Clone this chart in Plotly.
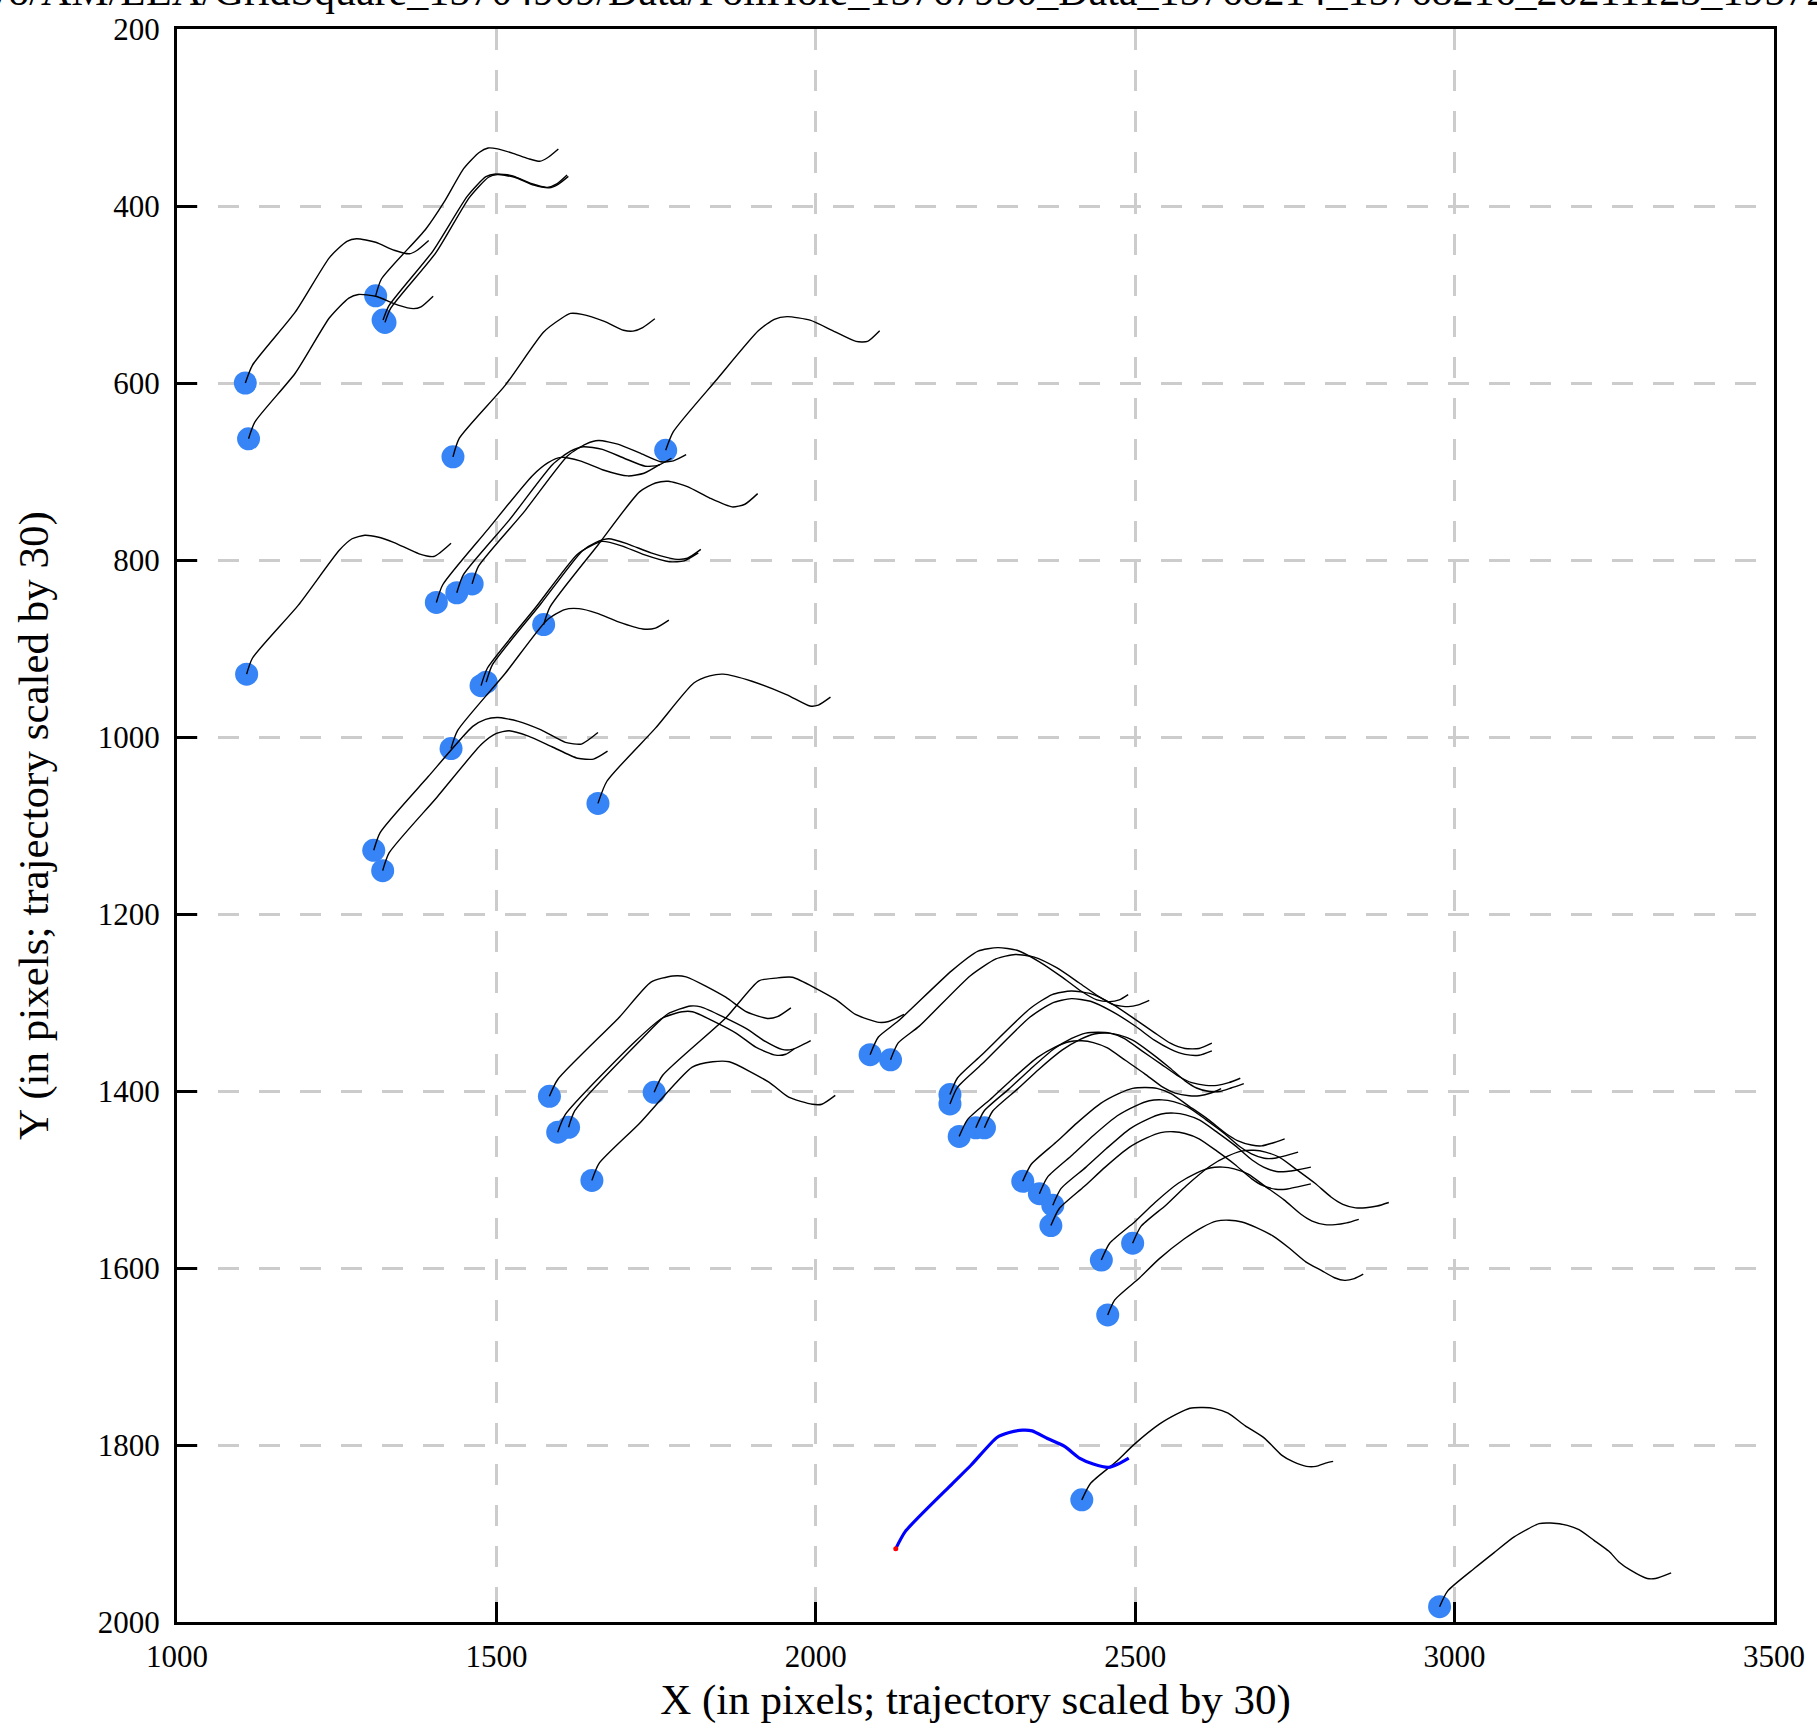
import plotly.graph_objects as go

# ---------------- data ----------------
TITLE = "/mnt/cryo/AM/LEA/GridSquare_15704909/Data/FoilHole_15767950_Data_15768214_15768216_20211123_195724_Fractions.tiff"
X_LABEL = "X (in pixels; trajectory scaled by 30)"
Y_LABEL = "Y (in pixels; trajectory scaled by 30)"
X_TICKS = [1000, 1500, 2000, 2500, 3000, 3500]
Y_TICKS = [200, 400, 600, 800, 1000, 1200, 1400, 1600, 1800, 2000]

# positions (blue dots)
POS_X = [1107, 1112, 1311, 1322.6, 1325.6, 1432, 1765, 1406, 1438, 1462,
         1109, 1574, 1476, 1484, 1429, 1659, 1308, 1322,
         1583, 1596, 1613, 1747, 1649.5,
         2085, 2117, 2210, 2210, 2224.5, 2250.5, 2264, 2324, 2350, 2371, 2368,
         2447, 2496, 2457, 2416.4, 2976.5]
POS_Y = [600, 663, 501.5, 528.9, 531.5, 683.4, 676, 848, 837, 827,
         929, 873, 942, 938, 1013, 1075, 1128, 1151,
         1406, 1446.5, 1441, 1401.5, 1501,
         1359, 1364.7, 1404, 1414.6, 1451.3, 1441.6, 1441.6, 1502, 1516, 1529, 1552,
         1591, 1572, 1653, 1862, 1982.7]

# trajectory shifts (already scaled by 30), relative to each position
SHIFTS = [
    [(0,0),(11,-20),(78,-80),(132,-142),(159,-160),(174,-163),(204,-159),(233,-150),(257,-146),(269,-150),(287,-161)],
    [(0,0),(10,-19),(73,-74),(127,-137),(157,-159),(172,-163),(199,-161),(234,-151),(258,-147),(270,-149),(289,-161)],
    [(0,0),(9,-19),(78,-75),(108,-107),(138,-144),(162,-162),(176,-167),(191,-166),(215,-161),(239,-155),(257,-152),(269,-156),(286,-166)],
    [(0,0),(9,-16),(78,-78),(132,-140),(161,-162),(176,-165),(203,-163),(233,-154),(257,-150),(272,-154),(288,-164)],
    [(0,0),(9,-16),(80,-79),(132,-141),(162,-164),(176,-167),(203,-164),(233,-155),(257,-152),(271,-156),(287,-165)],
    [(0,0),(10,-21),(82,-81),(142,-141),(169,-156),(184,-162),(202,-161),(237,-153),(267,-143),(282,-142),(297,-146),(316,-156)],
    [(0,0),(12,-21),(80,-80),(145,-135),(170,-148),(190,-151),(226,-147),(262,-135),(298,-123),(316,-123),(335,-135)],
    [(0,0),(10,-20),(80,-82),(150,-143),(175,-158),(195,-164),(225,-160),(260,-150),(300,-143),(325,-146),(350,-156)],
    [(0,0),(10,-20),(82,-82),(150,-145),(178,-160),(198,-165),(228,-162),(262,-152),(295,-143),(315,-144),(336,-152)],
    [(0,0),(10,-20),(82,-82),(150,-145),(178,-158),(198,-162),(228,-158),(262,-148),(295,-138),(315,-139),(335,-146)],
    [(0,0),(9,-18),(81,-78),(145,-140),(165,-153),(185,-157),(205,-155),(230,-149),(270,-136),(293,-133),(320,-148)],
    [(0,0),(10,-20),(85,-90),(150,-150),(175,-160),(195,-162),(225,-156),(260,-143),(295,-133),(315,-136),(335,-148)],
    [(0,0),(10,-20),(85,-88),(150,-148),(172,-158),(190,-163),(220,-158),(255,-148),(295,-140),(318,-141),(340,-150)],
    [(0,0),(10,-20),(85,-88),(150,-148),(172,-158),(192,-162),(222,-156),(258,-146),(295,-139),(315,-140),(336,-150)],
    [(0,0),(10,-20),(85,-85),(150,-145),(178,-157),(200,-158),(228,-153),(262,-143),(300,-135),(320,-136),(341,-145)],
    [(0,0),(14,-25),(90,-85),(150,-136),(175,-144),(196,-146),(241,-138),(295,-123),(332,-110),(345,-111),(364,-120)],
    [(0,0),(10,-20),(85,-83),(155,-140),(175,-148),(194,-150),(225,-146),(262,-136),(300,-122),(325,-120),(351,-133)],
    [(0,0),(10,-20),(85,-83),(155,-143),(178,-155),(198,-158),(228,-152),(265,-140),(305,-127),(330,-126),(352,-135)],
    [(0,0),(13,-19),(109,-89),(159,-129),(193,-136),(214,-135),(276,-112),(307,-96),(341,-88),(357,-90),(378,-100)],
    [(0,0),(12,-20),(122,-103),(164,-129),(195,-136),(211,-136),(279,-112),(310,-96),(341,-87),(357,-88),(370,-94)],
    [(0,0),(10,-19),(116,-101),(155,-128),(191,-137),(207,-136),(277,-112),(308,-97),(334,-88),(350,-88),(379,-98)],
    [(0,0),(13,-19),(112,-84),(164,-126),(190,-129),(216,-130),(284,-105),(315,-88),(352,-79),(367,-80),(391,-88)],
    [(0,0),(11,-19),(74,-64),(157,-128),(189,-134),(215,-134),(277,-111),(308,-94),(345,-86),(360,-86),(381,-96)],
    [(0,0),(13,-20),(44,-38),(128,-95),(169,-117),(200,-121),(230,-118),(265,-105),(300,-88),(330,-72),(355,-62),(375,-60),(390,-62),(404,-68)],
    [(0,0),(12,-19),(45,-38),(125,-95),(165,-114),(195,-119),(225,-116),(260,-104),(295,-87),(325,-72),(350,-62),(372,-60),(388,-62),(405,-67)],
    [(0,0),(12,-19),(50,-45),(125,-97),(160,-113),(190,-117),(220,-114),(255,-102),(290,-85),(320,-70),(345,-58),(368,-52),(390,-52),(410,-58)],
    [(0,0),(12,-19),(50,-45),(125,-98),(160,-114),(190,-119),(220,-116),(255,-104),(290,-88),(320,-72),(345,-62),(368,-56),(390,-55),(410,-60)],
    [(0,0),(13,-19),(52,-44),(85,-66),(122,-89),(150,-101),(172,-107),(192,-108),(210,-106),(232,-100),(260,-86),(290,-71),(318,-56),(338,-49),(360,-46),(376,-46),(394,-49),(410,-54)],
    [(0,0),(13,-19),(52,-44),(85,-66),(122,-89),(150,-101),(172,-107),(192,-108),(210,-107),(232,-101),(260,-87),(290,-72),(318,-58),(338,-51),(360,-48),(378,-48),(396,-51),(414,-56)],
    [(0,0),(13,-19),(52,-44),(85,-66),(122,-88),(150,-100),(172,-106),(192,-107),(210,-105),(232,-99),(260,-85),(288,-69),(314,-53),(332,-45),(352,-41),(368,-41),(386,-45),(406,-50)],
    [(0,0),(13,-19),(52,-44),(85,-66),(122,-88),(150,-99),(172,-105),(192,-106),(210,-105),(232,-99),(260,-85),(290,-70),(318,-54),(336,-46),(358,-41),(374,-40),(390,-43),(410,-48)],
    [(0,0),(13,-19),(52,-44),(85,-66),(122,-88),(150,-99),(172,-105),(192,-106),(210,-104),(232,-98),(260,-84),(288,-69),(314,-53),(332,-45),(352,-40),(368,-40),(386,-43),(405,-47)],
    [(0,0),(13,-19),(52,-43),(84,-64),(120,-86),(148,-97),(170,-103),(190,-104),(208,-102),(230,-96),(258,-82),(286,-67),(312,-51),(330,-43),(350,-38),(366,-38),(384,-40),(404,-43)],
    [(0,0),(13,-19),(52,-44),(85,-66),(122,-88),(150,-99),(172,-105),(192,-106),(210,-104),(232,-98),(260,-84),(288,-69),(314,-53),(332,-45),(352,-41),(368,-41),(388,-44),(407,-47)],
    [(0,0),(13,-19),(52,-43),(84,-65),(121,-87),(148,-98),(170,-104),(190,-105),(208,-103),(230,-97),(257,-83),(286,-68),(312,-52),(330,-44),(350,-40),(366,-40),(384,-42),(403,-46)],
    [(0,0),(13,-19),(52,-43),(84,-65),(121,-87),(148,-98),(170,-104),(190,-105),(208,-103),(230,-97),(257,-83),(285,-68),(311,-52),(329,-44),(349,-40),(365,-40),(383,-42),(401,-46)],
    [(0,0),(11,-17),(50,-42),(80,-63),(120,-86),(148,-99),(170,-106),(190,-107),(210,-105),(232,-99),(259,-89),(285,-75),(310,-60),(335,-50),(355,-42),(371,-39),(386,-41),(400,-46)],
    [(0,0),(13.8,-18.8),(52.6,-42.4),(82.5,-63),(121.4,-85.5),(148.3,-96.8),(169.2,-103.5),(190.2,-104.3),(208.1,-103.1),(229,-97.9),(256,-83.6),(285.8,-69.8),(312.8,-50.6),(330.7,-43.1),(351.6,-37.9),(366.6,-37.9),(381.5,-41.6),(393.5,-43.5)],
    [(0,0),(12.5,-17.6),(54.2,-43.1),(85.4,-61.1),(116.7,-78.8),(155.7,-93.8),(173.9,-94.5),(200,-91.9),(218.2,-87),(241.7,-75),(265.1,-62.6),(280.7,-50.6),(298.9,-41.3),(325,-31.9),(338,-31.9),(362.5,-38.3)],
]

# highlighted (current) trajectory
CUR_X0, CUR_Y0 = 2125.2, 1917.1
CUR_SHIFTS = [(0,0),(15,-19.5),(88,-73),(118,-94.5),(158.4,-125.6),(177.6,-131.2),(198.5,-133.9),
              (213.4,-133.1),(237.4,-124.5),(264.3,-115.5),(288.2,-102),(309.1,-95.6),(333,-91.9),
              (348,-95.6),(364.7,-102.4)]

# ---------------- figure ----------------
FONT = "Liberation Serif, Times New Roman, Times, serif"
fig = go.Figure()

fig.add_trace(go.Scatter(x=POS_X, y=POS_Y, mode="markers",
                         marker=dict(size=23, color="#3684F6", line=dict(width=0)),
                         hoverinfo="skip"))

for x0, y0, sh in zip(POS_X, POS_Y, SHIFTS):
    fig.add_trace(go.Scatter(x=[x0 + d[0] for d in sh], y=[y0 + d[1] for d in sh],
                             mode="lines", line=dict(color="black", width=1.4, shape="spline", smoothing=0.6),
                             hoverinfo="skip"))

fig.add_trace(go.Scatter(x=[CUR_X0 + d[0] for d in CUR_SHIFTS], y=[CUR_Y0 + d[1] for d in CUR_SHIFTS],
                         mode="lines", line=dict(color="#0000FF", width=3.2, shape="spline", smoothing=0.6),
                         hoverinfo="skip"))
fig.add_trace(go.Scatter(x=[CUR_X0], y=[CUR_Y0], mode="markers",
                         marker=dict(size=5, color="#FF0000"), hoverinfo="skip"))

axis_common = dict(
    ticks="inside", ticklen=20, tickwidth=3, tickcolor="black",
    showline=True, linewidth=3, linecolor="black", mirror=True,
    showgrid=True, gridcolor="#cccccc", gridwidth=2.5, griddash="21px,20px",
    zeroline=False, tickfont=dict(family=FONT, size=31, color="black"),
)

fig.update_layout(
    width=1817, height=1727,
    margin=dict(l=177, r=40, t=27, b=100),
    plot_bgcolor="white", paper_bgcolor="white",
    showlegend=False,
    font=dict(family=FONT, size=31, color="black"),
    xaxis=dict(range=[1000, 3500], tickvals=X_TICKS, ticklabelstandoff=5,
               title=dict(text=X_LABEL, font=dict(family=FONT, size=43, color="black"), standoff=11),
               **axis_common),
    yaxis=dict(range=[2000, 200], tickvals=Y_TICKS, ticklabelstandoff=8,
               title=dict(text=Y_LABEL, font=dict(family=FONT, size=43, color="black"), standoff=36),
               **axis_common),
    annotations=[dict(text=TITLE, xref="paper", yref="paper", x=-0.19625, y=1.0084,
                      xanchor="left", yanchor="bottom", showarrow=False,
                      font=dict(family=FONT, size=42, color="black"))],
)

fig.write_html("out.html", config={"displayModeBar": False},
               post_script="document.body.style.margin='0';document.body.style.overflow='hidden';")
